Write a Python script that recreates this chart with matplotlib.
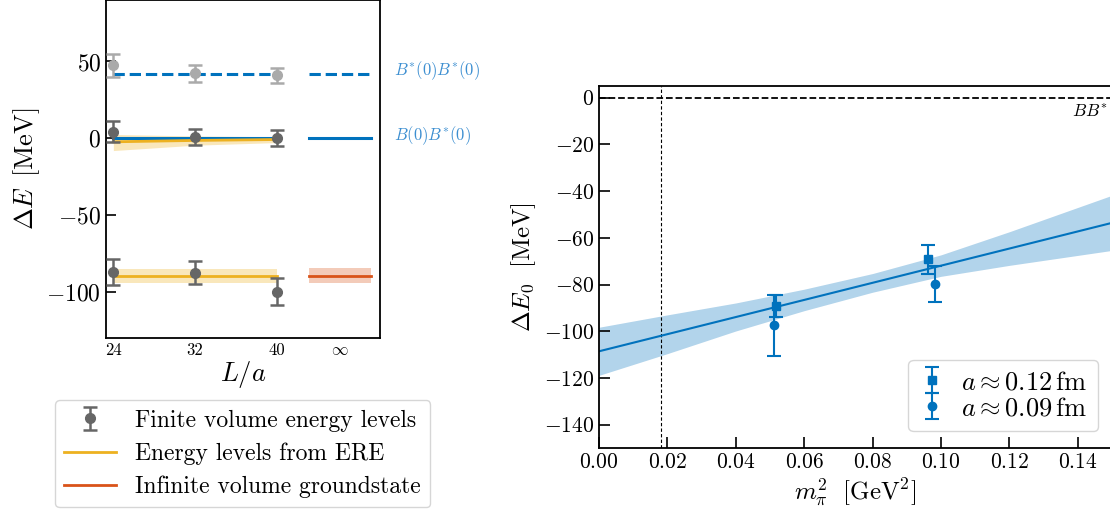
import numpy as np
import matplotlib
matplotlib.use('Agg')
import matplotlib.pyplot as plt

plt.rcParams['font.family'] = 'serif'
plt.rcParams['font.serif'] = ['cmr10']
plt.rcParams['mathtext.fontset'] = 'cm'
plt.rcParams['axes.formatter.use_mathtext'] = True
plt.rcParams['axes.unicode_minus'] = True

blue = '#0072bd'
orange = '#edb120'
red = '#d95319'
darkgray = '#666666'
lightgray = '#aaaaaa'

# left panel: finite volume levels
L = [24, 32, 40]
inf_pos = 46.2
E_excited = [47.4, 42.4, 41.0]
E_excited_err = [7.4, 5.6, 5.0]
E_level1 = [4.3, 0.8, 0.2]
E_level1_err = [6.8, 5.0, 5.0]
E_ground = [-87.0, -87.6, -99.8]
E_ground_err = [8.2, 7.5, 8.6]

# ERE predictions
ere_level1 = [-2.3, -1.4, -0.8]
ere_level1_lo = [-8.0, -4.5, -2.8]
ere_level1_hi = [2.5, 1.5, 1.0]
ere_ground = -89.6
ere_ground_err = 4.5
inf_ground = -89.6
inf_ground_err = 4.9

thr_BsBs = 42.0
thr_BBs = 0.0

# right panel: chiral extrapolation
mpi2_012 = [0.0518, 0.0962]
dE_012 = [-89.2, -69.2]
dE_012_err = [4.7, 6.2]
mpi2_009 = [0.0513, 0.0982]
dE_009 = [-97.5, -79.8]
dE_009_err = [13.0, 7.8]

fit_x = [0.0, 0.15]
fit_y = [-108.6, -53.6]
band_x = [0.0, 0.02, 0.04, 0.06, 0.08, 0.10, 0.12, 0.15]
band_hi = [-98.3, -93.0, -87.9, -82.0, -75.3, -67.3, -57.4, -41.8]
band_lo = [-118.9, -109.6, -99.9, -91.2, -83.3, -76.5, -71.8, -65.4]
mpi2_phys = 0.0182

fig = plt.figure(figsize=(11.10, 5.19), dpi=100)

# ---------- left ----------
ax = fig.add_axes([0.0955, 0.3487, 0.2468, 0.6513])
half = 3.05
ax.plot([L[0], L[-1]], [thr_BsBs, thr_BsBs], '--', color=blue, lw=2.2, zorder=1)
ax.plot([inf_pos - half, inf_pos + half], [thr_BsBs, thr_BsBs], '--', color=blue, lw=2.2, zorder=1)
ax.plot([L[0], L[-1]], [thr_BBs, thr_BBs], '-', color=blue, lw=2.2, zorder=2)
ax.plot([inf_pos - half, inf_pos + half], [thr_BBs, thr_BBs], '-', color=blue, lw=2.2, zorder=2)

ax.fill_between(L, ere_level1_lo, ere_level1_hi, color=orange, alpha=0.3, lw=0, zorder=1)
ax.plot(L, ere_level1, color=orange, lw=2.0, zorder=2)
ax.fill_between([L[0], L[-1]], ere_ground - ere_ground_err, ere_ground + ere_ground_err,
                color=orange, alpha=0.3, lw=0, zorder=1)
l_ere, = ax.plot([L[0], L[-1]], [ere_ground, ere_ground], color=orange, lw=2.0, zorder=2,
                 label='Energy levels from ERE')
ax.fill_between([inf_pos - half, inf_pos + half], inf_ground - inf_ground_err, inf_ground + inf_ground_err,
                color=red, alpha=0.3, lw=0, zorder=1)
l_inf, = ax.plot([inf_pos - half, inf_pos + half], [inf_ground, inf_ground], color=red, lw=2.0, zorder=2,
                 label='Infinite volume groundstate')

ekw = dict(fmt='o', ms=7, capsize=5, elinewidth=1.8, capthick=1.8, zorder=3)
ax.errorbar(L, E_excited, yerr=E_excited_err, color=lightgray, **ekw)
eb = ax.errorbar(L, E_level1, yerr=E_level1_err, color=darkgray, label='Finite volume energy levels', **ekw)
ax.errorbar(L, E_ground, yerr=E_ground_err, color=darkgray, **ekw)

ax.text(51.5, thr_BsBs + 2, r'$B^{*}(0)B^{*}(0)$', color='#3d8fd1', fontsize=12, va='center', ha='left')
ax.text(51.5, thr_BBs + 2, r'$B(0)B^{*}(0)$', color='#3d8fd1', fontsize=12, va='center', ha='left')

ax.set_xlim(23.28, 50.12)
ax.set_ylim(-130, 90)
ax.set_xticks(L + [inf_pos])
ax.set_xticklabels(['24', '32', '40', r'$\infty$'], fontsize=12)
ax.set_yticks([50, 0, -50, -100])
ax.tick_params(axis='y', direction='in', length=7, width=1.2, labelsize=17)
ax.tick_params(axis='x', length=0, pad=3)
for s in ax.spines.values():
    s.set_linewidth(1.3)
ax.set_xlabel(r'$L/a$', fontsize=19, labelpad=1)
ax.set_ylabel(r'$\Delta E\ \,[\mathrm{MeV}]$', fontsize=19, labelpad=3)

fig.legend(handles=[eb, l_ere, l_inf], loc='upper left', bbox_to_anchor=(0.0495, 0.229),
           fontsize=17, borderaxespad=0, handlelength=2.2, labelspacing=0.45)

# ---------- right ----------
ax2 = fig.add_axes([0.5396, 0.1368, 0.4622, 0.6975])
ax2.axhline(0, color='k', ls='--', lw=1.3)
ax2.axvline(mpi2_phys, color='k', ls='--', lw=0.8, dashes=(3, 2))
ax2.fill_between(band_x, band_lo, band_hi, color=blue, alpha=0.3, lw=0)
ax2.plot(fit_x, fit_y, color=blue, lw=1.5)
ax2.errorbar(mpi2_012, dE_012, yerr=dE_012_err, fmt='s', color=blue, ms=6, capsize=5,
             elinewidth=1.5, capthick=1.5, label=r'$a\approx0.12\,\mathrm{fm}$')
ax2.errorbar(mpi2_009, dE_009, yerr=dE_009_err, fmt='o', color=blue, ms=6, capsize=5,
             elinewidth=1.5, capthick=1.5, label=r'$a\approx0.09\,\mathrm{fm}$')
ax2.text(0.1436, -6.2, r'$BB^{*}$', fontsize=12.5, ha='center', va='center')

ax2.set_xlim(0, 0.15)
ax2.set_ylim(-150, 5)
ax2.set_xticks(np.arange(0, 0.141, 0.02))
ax2.set_yticks(np.arange(0, -141, -20))
ax2.xaxis.set_major_formatter(matplotlib.ticker.FormatStrFormatter(r'$%.2f$'))
ax2.tick_params(direction='in', length=8, width=1.2, labelsize=15.5)
for s in ax2.spines.values():
    s.set_linewidth(1.3)
ax2.set_xlabel(r'$m_\pi^2\ \ [\mathrm{GeV}^2]$', fontsize=18, labelpad=3)
ax2.set_ylabel(r'$\Delta E_0\ \ [\mathrm{MeV}]$', fontsize=18, labelpad=4)
ax2.legend(loc='lower right', bbox_to_anchor=(0.989, 0.1696), bbox_transform=fig.transFigure,
           fontsize=19, borderaxespad=0, handlelength=1.0, handletextpad=0.6, labelspacing=0.1)

fig.savefig('out.png', dpi=100)
